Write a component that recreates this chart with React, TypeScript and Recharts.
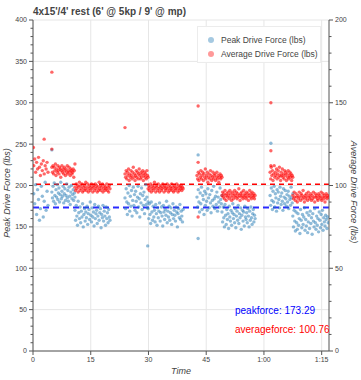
import React from "react";
import {
  ScatterChart,
  Scatter,
  XAxis,
  YAxis,
  CartesianGrid,
  ReferenceLine,
} from "recharts";

// ---------- data ----------
const TITLE = "4x15'/4' rest (6' @ 5kp / 9' @ mp)";
const PEAK_LABEL = "Peak Drive Force (lbs)";
const AVG_LABEL = "Average Drive Force (lbs)";
const X_LABEL = "Time";
const PEAK_MEAN = 173.29;
const AVG_MEAN = 100.76;

const xTicks = [0, 15, 30, 45, 60, 75];
const leftMajorTicks = [0, 50, 100, 150, 200, 250, 300, 350, 400];
const rightMajorTicks = [0, 50, 100, 150, 200];

// segment time ranges in minutes [start, end]
const segTimes: number[][] = [
  [0.2, 3.9],
  [4.9, 10.9],
  [10.9, 20.0],
  [23.9, 29.9],
  [29.9, 39.0],
  [42.6, 49.1],
  [49.1, 57.7],
  [61.6, 67.5],
  [67.5, 76.7],
];

const peakA = [190, 178, 201, 165, 195, 183, 158, 172, 199, 187, 162, 181, 204, 170, 193, 176];
const avgA = [112, 116, 108, 114, 110, 117, 111, 106, 113, 109, 115, 107, 112, 110, 114, 108];

const peakB = [192, 185, 199, 181, 203, 188, 178, 195, 186, 201, 183, 191, 197, 180, 189, 204, 184, 193, 187, 199, 179, 190, 196, 182, 188, 202, 185, 194, 181, 198, 187, 177, 192, 200, 184, 189, 195, 182, 191, 186];
const avgB = [111, 108, 112, 107, 111, 109, 113, 106, 110, 108, 112, 109, 107, 111, 110, 105, 109, 112, 108, 110, 107, 111, 109, 106, 110, 108, 112, 107, 109, 111, 108, 106, 110, 109, 107, 108, 110, 105, 109, 113];

const peakC = [170, 158, 176, 163, 152, 181, 167, 160, 174, 155, 169, 162, 178, 150, 165, 172, 157, 168, 161, 175, 153, 166, 171, 159, 180, 164, 156, 173, 162, 168, 151, 177, 160, 166, 170, 154, 163, 175, 158, 167, 172, 149, 165, 161, 176, 157, 169, 163, 152, 174, 160, 167, 155, 171, 162, 158];
const avgC = [99, 97, 101, 98, 100, 96, 99, 102, 97, 100, 98, 101, 96, 99, 97, 100, 98, 102, 97, 99, 101, 96, 98, 100, 97, 99, 101, 98, 96, 100, 99, 97, 101, 98, 100, 96, 99, 97, 102, 98, 100, 97, 99, 101, 96, 98, 100, 97, 99, 98, 101, 97, 99, 96, 100, 98];

const peakD = [185, 172, 196, 180, 165, 191, 178, 200, 169, 187, 175, 194, 163, 182, 198, 176, 189, 170, 193, 181, 167, 186, 199, 174, 184, 162, 190, 179, 197, 171, 188, 176, 192, 166, 183, 201, 177, 186, 173, 180];
const avgD = [107, 105, 109, 104, 108, 106, 110, 103, 107, 105, 109, 106, 104, 108, 111, 105, 107, 103, 106, 109, 105, 108, 104, 107, 110, 106, 104, 108, 105, 107, 109, 103, 106, 108, 105, 107, 104, 109, 106, 105];

const peakE = [172, 160, 178, 165, 154, 180, 168, 158, 175, 162, 170, 156, 177, 166, 152, 173, 161, 169, 179, 157, 167, 174, 163, 151, 176, 168, 159, 171, 164, 181, 155, 169, 162, 175, 158, 167, 173, 153, 165, 178, 160, 170, 164, 157, 174, 168, 150, 166, 172, 161, 177, 159, 169, 163, 156, 171];
const avgE = [98, 100, 97, 99, 101, 96, 98, 100, 97, 99, 102, 98, 96, 100, 99, 97, 101, 98, 96, 99, 100, 97, 98, 101, 99, 96, 100, 98, 97, 99, 101, 98, 96, 100, 97, 99, 98, 101, 97, 99, 96, 100, 98, 97, 99, 101, 98, 96, 100, 97, 99, 98, 100, 97, 99, 98];

const peakF = [186, 174, 195, 180, 168, 191, 178, 198, 171, 188, 183, 165, 193, 176, 190, 181, 170, 196, 185, 173, 189, 179, 167, 194, 182, 175, 199, 184, 172, 187, 177, 192, 169, 186, 180, 174, 197, 183, 178, 188];
const avgF = [106, 104, 108, 103, 107, 105, 109, 104, 106, 108, 103, 107, 105, 110, 104, 106, 108, 102, 105, 107, 104, 109, 106, 103, 105, 108, 104, 106, 107, 103, 105, 108, 104, 106, 102, 105, 107, 104, 106, 105];

const peakG = [168, 156, 174, 161, 150, 177, 164, 153, 171, 159, 166, 148, 175, 162, 157, 170, 152, 167, 178, 160, 165, 155, 172, 149, 163, 169, 158, 176, 154, 166, 161, 173, 147, 164, 170, 157, 168, 151, 175, 162, 159, 167, 155, 172, 163, 150, 169, 158, 174, 161, 153, 166, 171, 156, 164, 160];
const avgG = [94, 96, 93, 95, 92, 97, 94, 91, 95, 93, 96, 94, 92, 97, 95, 93, 91, 96, 94, 92, 95, 97, 93, 94, 96, 92, 95, 93, 98, 94, 91, 95, 93, 96, 94, 92, 97, 93, 95, 94, 92, 96, 93, 95, 91, 94, 97, 93, 95, 92, 96, 94, 93, 95, 92, 94];

const peakH = [188, 176, 197, 182, 171, 193, 180, 199, 174, 190, 185, 169, 195, 179, 192, 183, 173, 198, 187, 177, 191, 181, 170, 196, 186, 178, 194, 184, 175, 189, 180, 193, 172, 187, 183, 176, 198, 185, 179, 190];
const avgH = [108, 104, 111, 106, 109, 103, 107, 112, 105, 108, 106, 110, 104, 107, 109, 105, 111, 106, 103, 108, 106, 110, 105, 107, 104, 109, 106, 108, 103, 107, 105, 109, 104, 106, 108, 105, 107, 103, 106, 105];

const peakI = [163, 150, 170, 157, 145, 168, 155, 147, 166, 152, 160, 142, 171, 158, 149, 165, 153, 162, 173, 146, 159, 151, 167, 143, 156, 164, 148, 169, 154, 161, 141, 166, 157, 150, 172, 155, 147, 163, 152, 160, 144, 168, 158, 149, 165, 153, 170, 146, 161, 156, 151, 164, 159, 148, 162, 155];
const avgI = [94, 92, 96, 93, 91, 95, 93, 90, 94, 92, 96, 93, 91, 95, 94, 92, 97, 93, 90, 94, 92, 95, 93, 91, 96, 94, 92, 93, 95, 91, 94, 92, 96, 93, 90, 95, 93, 94, 92, 91, 95, 93, 94, 92, 96, 91, 93, 95, 92, 94, 90, 93, 95, 92, 94, 93];

const peakSegments = [peakA, peakB, peakC, peakD, peakE, peakF, peakG, peakH, peakI];
const avgSegments = [avgA, avgB, avgC, avgD, avgE, avgF, avgG, avgH, avgI];

// isolated strokes (time in minutes, value)
const peakOutlierTimes = [4.9, 42.9, 42.9, 29.8, 61.8];
const peakOutlierValues = [243, 237, 136, 127, 251];
const avgOutlierTimes = [4.9, 2.9, 4.9, 0.1, 23.9, 42.9, 42.9, 42.9, 61.8, 61.8, 61.8];
const avgOutlierValues = [168.5, 128, 122, 123, 135, 148, 114, 81, 150, 121, 112];

type Pt = { t: number; v: number };

function buildSeries(segs: number[][], outT: number[], outV: number[]): Pt[] {
  const out: Pt[] = [];
  segs.forEach((vals, s) => {
    const [t0, t1] = segTimes[s];
    const n = vals.length;
    vals.forEach((v, i) => {
      out.push({ t: t0 + ((t1 - t0) * i) / (n - 1), v });
    });
  });
  outT.forEach((t, i) => out.push({ t, v: outV[i] }));
  return out;
}

const peakData = buildSeries(peakSegments, peakOutlierTimes, peakOutlierValues);
const avgData = buildSeries(avgSegments, avgOutlierTimes, avgOutlierValues);

// ---------- style ----------
const FONT = "'Liberation Sans', Arial, Helvetica, sans-serif";
const BLUE = "#1f77b4";
const RED = "#ff0000";
const AXIS = "#555";
const TXT = "#444";
const TICK_SIZE = 4;
const TICK_MARGIN = 2;

const fmtTime = (m: number) =>
  m >= 60 ? `${Math.floor(m / 60)}:${String(m % 60).padStart(2, "0")}` : String(m);

function minorTicks(max: number, step: number) {
  const arr: number[] = [];
  for (let v = 0; v <= max; v += step) arr.push(v);
  return arr;
}

const YTick = (props: any) => {
  const { x, y, payload, side, majors } = props;
  const v = payload.value;
  const isMajor = majors.includes(v);
  const dir = side === "left" ? -1 : 1;
  const axisX = x - dir * (TICK_SIZE + TICK_MARGIN);
  const len = isMajor ? 4 : 2.5;
  return (
    <g>
      <line x1={axisX} x2={axisX + dir * len} y1={y} y2={y} stroke={AXIS} strokeWidth={1} />
      {isMajor && (
        <text
          x={x}
          y={y}
          dy="0.35em"
          textAnchor={dir < 0 ? "end" : "start"}
          fontSize={7}
          fill={TXT}
          fontFamily={FONT}
        >
          {v}
        </text>
      )}
    </g>
  );
};

const dot = (color: string, op: number) => (p: any) =>
  <circle cx={p.cx} cy={p.cy} r={1.7} fill={color} fillOpacity={op} />;

export default function App() {
  const W = 361;
  const H = 380;
  return (
    <div style={{ position: "absolute", left: 0, top: 0, width: W, height: H, fontFamily: FONT }}>
      <ScatterChart width={W} height={H} margin={{ top: 20, right: 0, bottom: 0, left: 0 }}>
        <CartesianGrid
          xAxisId="x"
          yAxisId="left"
          stroke="#e6e6e6"
          horizontalValues={leftMajorTicks}
          verticalValues={xTicks}
        />
        <XAxis
          xAxisId="x"
          type="number"
          dataKey="t"
          domain={[0, 76.9]}
          ticks={xTicks}
          interval={0}
          tickFormatter={fmtTime}
          height={29}
          stroke={AXIS}
          tickSize={TICK_SIZE}
          tickMargin={2}
          tick={{ fontSize: 7, fill: TXT, fontFamily: FONT }}
          allowDataOverflow
        />
        <YAxis
          yAxisId="left"
          orientation="left"
          type="number"
          dataKey="v"
          domain={[0, 400]}
          ticks={minorTicks(400, 10)}
          interval={0}
          width={33}
          stroke={AXIS}
          tickLine={false}
          tickSize={TICK_SIZE}
          tickMargin={TICK_MARGIN}
          tick={(p: any) => <YTick {...p} side="left" majors={leftMajorTicks} />}
          allowDataOverflow
        />
        <YAxis
          yAxisId="right"
          orientation="right"
          type="number"
          dataKey="v"
          domain={[0, 200]}
          ticks={minorTicks(200, 10)}
          interval={0}
          width={32}
          stroke={AXIS}
          tickLine={false}
          tickSize={TICK_SIZE}
          tickMargin={TICK_MARGIN}
          tick={(p: any) => <YTick {...p} side="right" majors={rightMajorTicks} />}
          allowDataOverflow
        />
        <Scatter
          name={PEAK_LABEL}
          data={peakData}
          xAxisId="x"
          yAxisId="left"
          isAnimationActive={false}
          shape={dot(BLUE, 0.5)}
        />
        <Scatter
          name={AVG_LABEL}
          data={avgData}
          xAxisId="x"
          yAxisId="right"
          isAnimationActive={false}
          shape={dot(RED, 0.6)}
        />
        <ReferenceLine
          xAxisId="x"
          yAxisId="left"
          y={PEAK_MEAN}
          stroke="#2a2aff"
          strokeWidth={2}
          strokeDasharray="6 4"
        />
        <ReferenceLine
          xAxisId="x"
          yAxisId="right"
          y={AVG_MEAN}
          stroke={RED}
          strokeWidth={1.5}
          strokeDasharray="5 4"
        />
      </ScatterChart>

      <svg
        width={W}
        height={H}
        style={{ position: "absolute", left: 0, top: 0, pointerEvents: "none" }}
      >
        <defs>
          <clipPath id="plotClip">
            <rect x={33} y={20} width={296} height={331} />
          </clipPath>
        </defs>
        <text x={33} y={15} fontSize={10} fontWeight="bold" fill={TXT} fontFamily={FONT}>
          {TITLE}
        </text>
        <text
          x={0}
          y={0}
          transform="translate(10,193) rotate(-90)"
          textAnchor="middle"
          fontSize={9}
          fontStyle="italic"
          fill={TXT}
          fontFamily={FONT}
        >
          {PEAK_LABEL}
        </text>
        <text
          x={0}
          y={0}
          transform="translate(351,192) rotate(90)"
          textAnchor="middle"
          fontSize={9}
          fontStyle="italic"
          fill={TXT}
          fontFamily={FONT}
        >
          {AVG_LABEL}
        </text>
        <text x={181} y={374} textAnchor="middle" fontSize={9} fontStyle="italic" fill={TXT} fontFamily={FONT}>
          {X_LABEL}
        </text>
        <g clipPath="url(#plotClip)">
          <text x={235} y={314} fontSize={10} fill="#0000ff" fontFamily={FONT}>
            {`peakforce: ${PEAK_MEAN}`}
          </text>
          <text x={235} y={333} fontSize={10} fill={RED} fontFamily={FONT}>
            {`averageforce: ${AVG_MEAN}`}
          </text>
        </g>
      </svg>

      <div
        style={{
          position: "absolute",
          left: 197,
          top: 26,
          width: 124,
          height: 37,
          background: "rgba(255,255,255,0.95)",
          border: "1px solid #ececec",
          boxSizing: "border-box",
          fontSize: 8.5,
          color: TXT,
          fontFamily: FONT,
        }}
      >
        {[
          { label: PEAK_LABEL, color: BLUE },
          { label: AVG_LABEL, color: RED },
        ].map((it, i) => (
          <div
            key={i}
            style={{
              position: "absolute",
              left: 10,
              top: 7 + i * 14,
              height: 11,
              display: "flex",
              alignItems: "center",
              whiteSpace: "nowrap",
            }}
          >
            <span
              style={{
                display: "inline-block",
                width: 6,
                height: 6,
                borderRadius: 3,
                background: it.color,
                opacity: 0.4,
                marginRight: 7,
              }}
            />
            {it.label}
          </div>
        ))}
      </div>
    </div>
  );
}
